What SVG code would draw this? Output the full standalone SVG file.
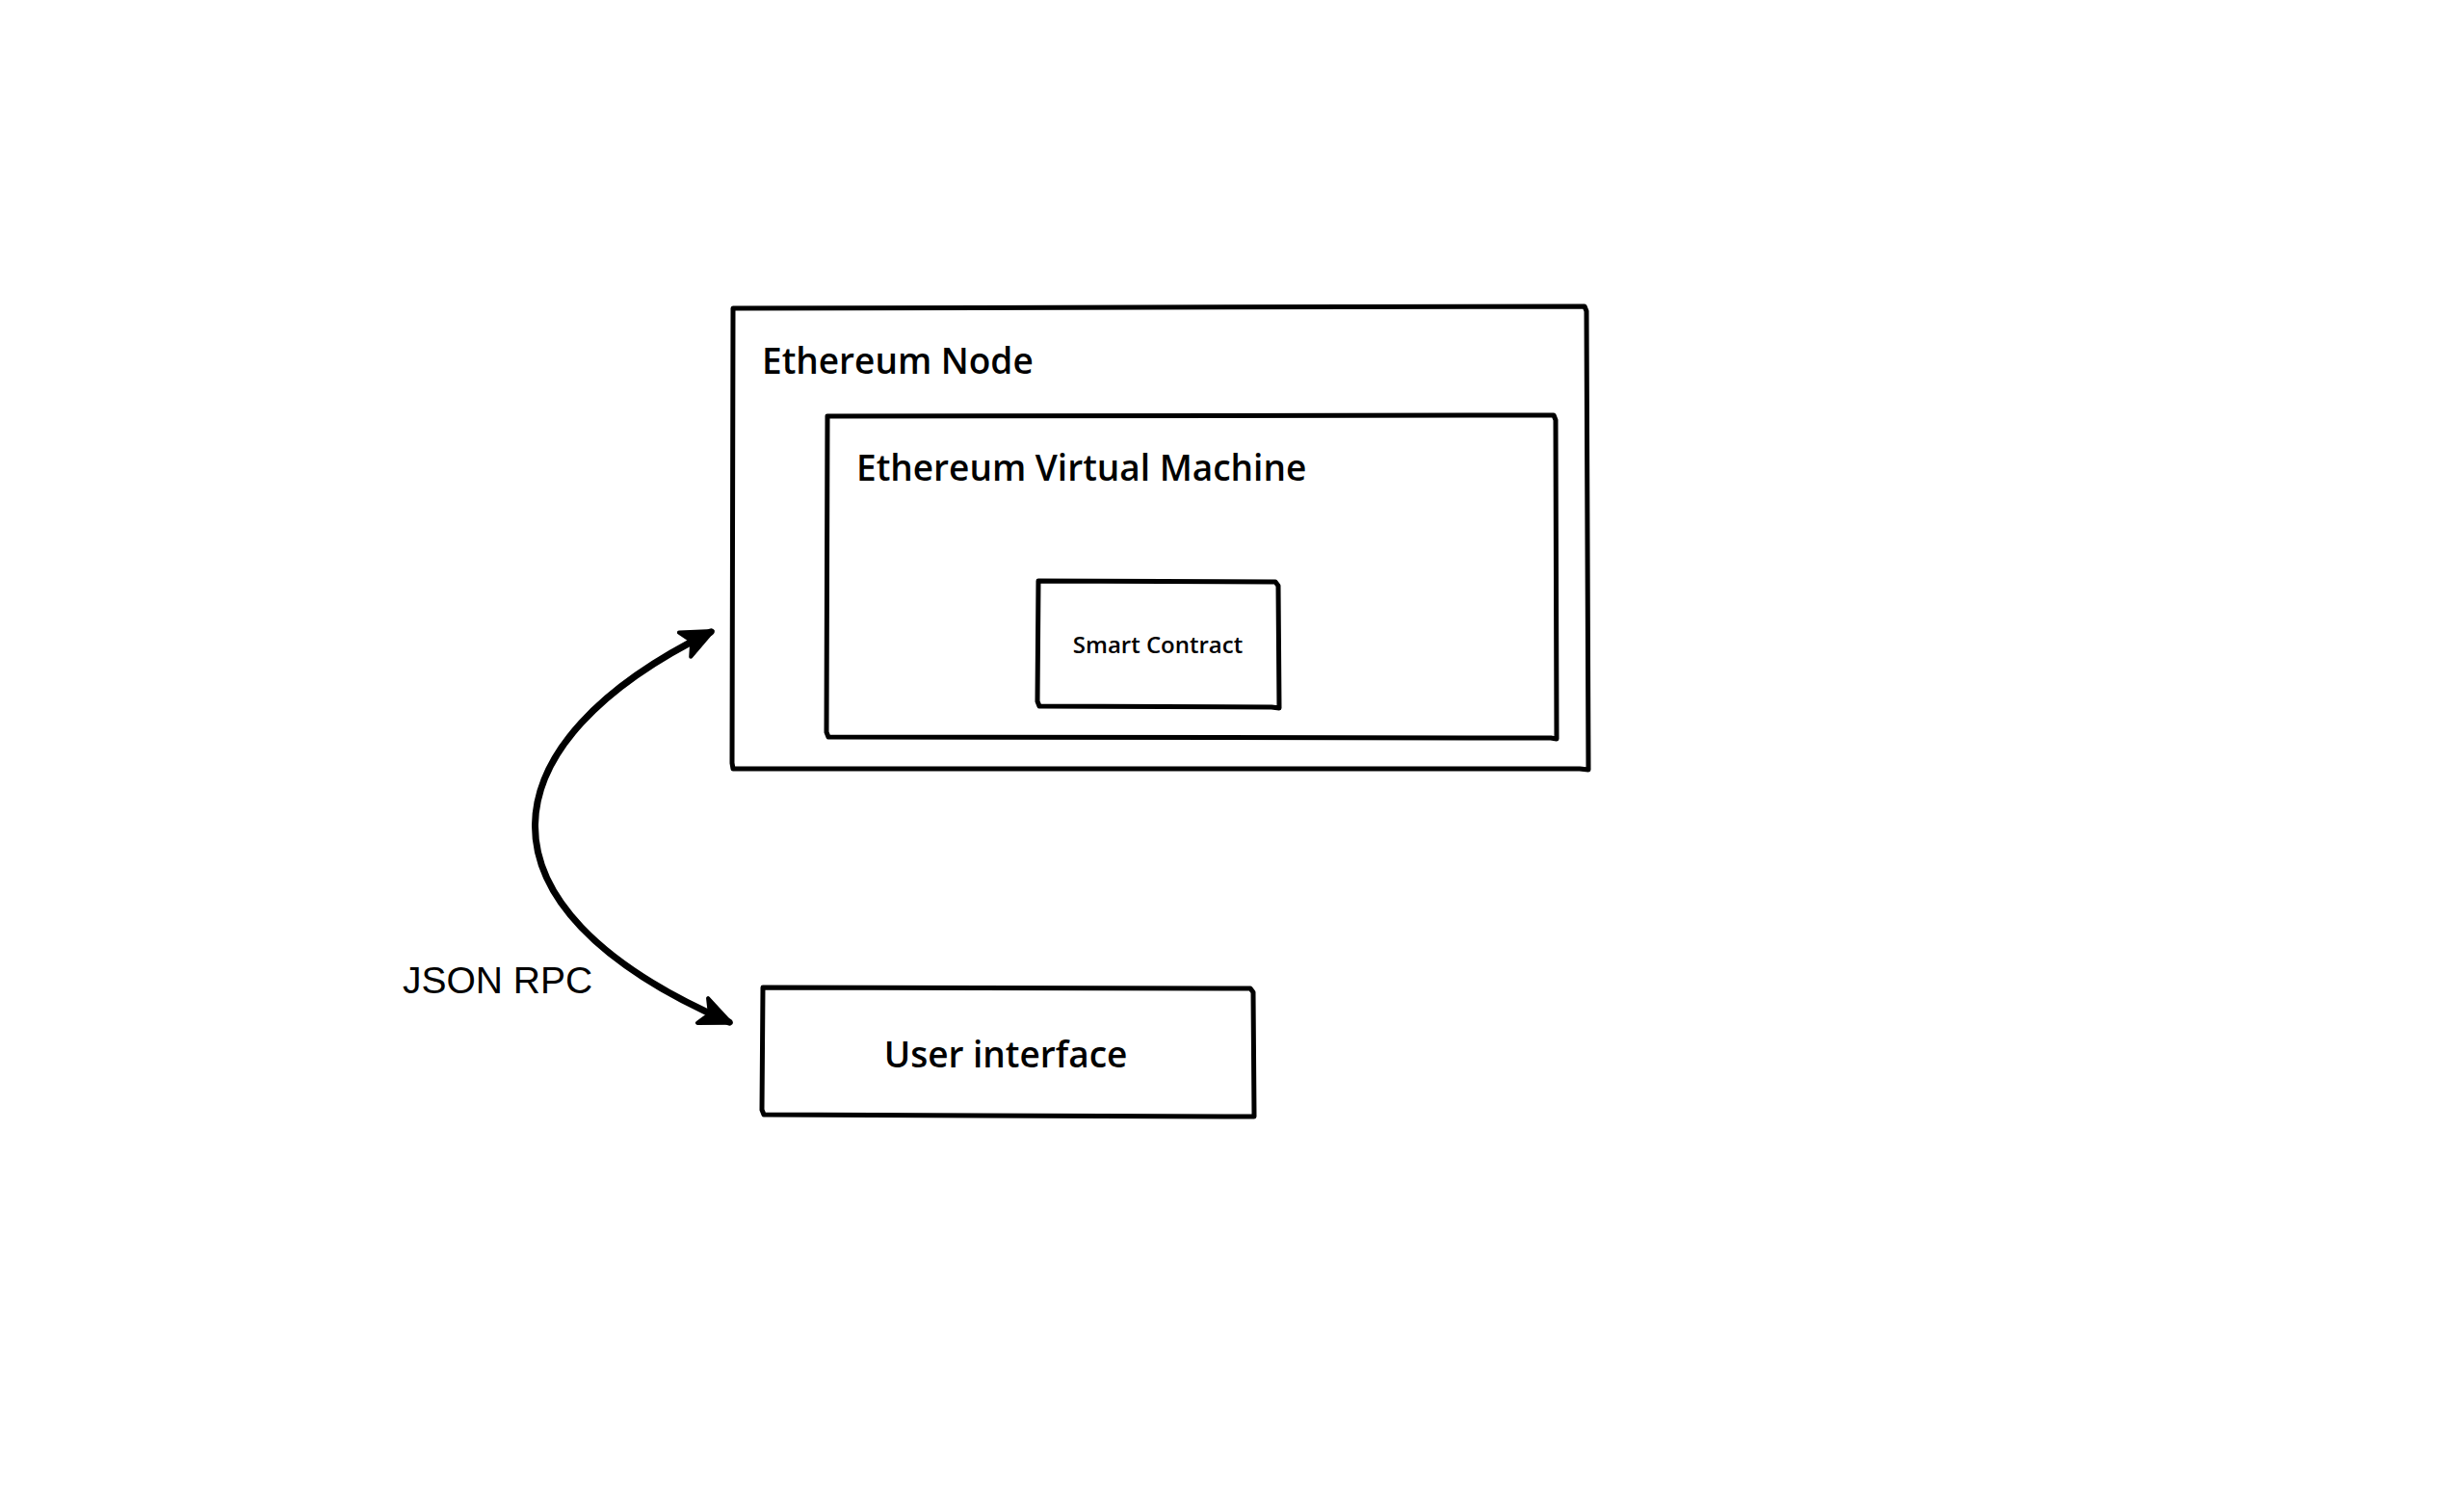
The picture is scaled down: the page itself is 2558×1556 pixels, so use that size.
<svg xmlns="http://www.w3.org/2000/svg" width="2558" height="1556" viewBox="0 0 2558 1556">
<style>
.box{fill:none;stroke:#000;stroke-width:5;stroke-linejoin:round;stroke-linecap:round}
.lbl{font-family:"Open Sans","Noto Sans",sans-serif;font-weight:600;fill:#000}
.big{font-size:37px}
.small{font-size:24px}
.edge{fill:none;stroke:#000;stroke-width:7;stroke-linecap:round}
.rpc{font-family:"Liberation Sans",Arial,sans-serif;font-size:39px;fill:#000}
</style>
<defs>
<marker id="ah" markerUnits="userSpaceOnUse" markerWidth="60" markerHeight="60" viewBox="-40 -30 50 60" refX="0" refY="0" orient="auto-start-reverse">
<path d="M2,0 L-30,-14 L-22,0 L-30,14 Z" fill="#000" stroke="#000" stroke-width="4" stroke-linejoin="round"/>
</marker>
</defs>
<rect width="2558" height="1556" fill="#fff"/>
<g id="ethereum-node">
<path class="box" d="M761 320 L1645 318 L1647 323 L1649 799 L1640 798 L761 798 L760 792 L761 320 Z"/>
<text class="lbl big" x="791" y="388">Ethereum Node</text>
</g>
<g id="evm">
<path class="box" d="M859 432 L1613 431 L1615 436 L1616 767 L1610 766 L860 765 L858 760 L859 432 Z"/>
<text class="lbl big" x="889" y="499">Ethereum Virtual Machine</text>
</g>
<g id="smart-contract">
<path class="box" d="M1078 603 L1324 604 L1327 608 L1328 735 L1320 734 L1079 733 L1077 728 L1078 603 Z"/>
<text class="lbl small" x="1202" y="678" text-anchor="middle">Smart Contract</text>
</g>
<g id="user-interface">
<path class="box" d="M792 1025 L1298 1026 L1301 1030 L1302 1159 L1295 1159 L793 1157 L791 1152 L792 1025 Z"/>
<text class="lbl big" x="1044" y="1108" text-anchor="middle">User interface</text>
</g>
<g id="connectors">
<path class="edge" d="M738 656 C 505 770, 478 940, 757 1061" marker-start="url(#ah)" marker-end="url(#ah)"/>
<text class="rpc" x="418" y="1031">JSON RPC</text>
</g>
</svg>
